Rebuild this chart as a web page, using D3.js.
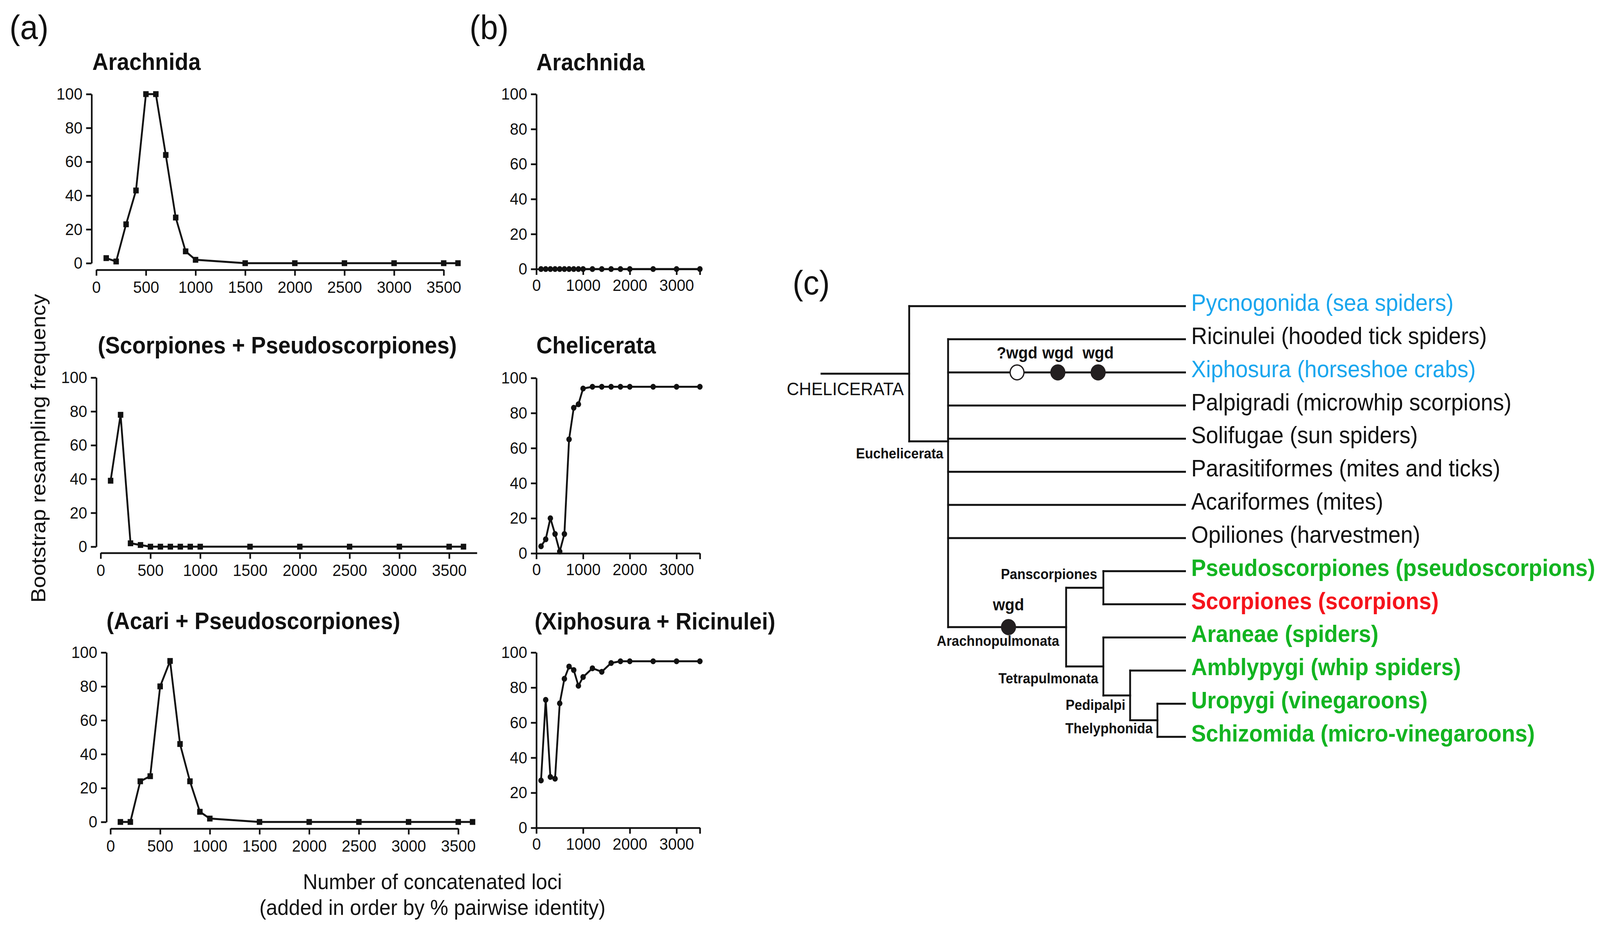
<!DOCTYPE html>
<html>
<head>
<meta charset="utf-8">
<script src="https://cdn.jsdelivr.net/npm/d3@7"></script>
<style>
  html, body { margin: 0; padding: 0; background: #fff; overflow: hidden; }
  svg { display: block; font-family: 'Liberation Sans', Arial, Helvetica, sans-serif; }
</style>
</head>
<body>
<div id="figure_container"></div>
<script>

// number of concatenated loci (x values)
var loci_a = [100, 200, 300, 400, 500, 600, 700, 800, 900, 1000, 1500, 2000, 2500, 3000, 3500, 3644]
var loci_b = [100, 200, 300, 400, 500, 600, 700, 800, 900, 1000, 1200, 1400, 1600, 1800, 2000, 2500, 3000, 3500]

// (a) bootstrap resampling frequency
var arachnida_a = [3, 1, 23, 43, 100, 100, 64, 27, 7, 2, 0, 0, 0, 0, 0, 0]
var scorp_pseudo_a = [39, 78, 2, 1, 0, 0, 0, 0, 0, 0, 0, 0, 0, 0, 0, 0]
var acari_pseudo_a = [0, 0, 24, 27, 80, 95, 46, 24, 6, 2, 0, 0, 0, 0, 0, 0]

// (b) bootstrap resampling frequency
var arachnida_b = [0, 0, 0, 0, 0, 0, 0, 0, 0, 0, 0, 0, 0, 0, 0, 0, 0, 0]
var chelicerata_b = [4, 8, 20, 11, 1, 11, 65, 83, 85, 94, 95, 95, 95, 95, 95, 95, 95, 95]
var xiph_ricin_b = [27, 73, 29, 28, 71, 85, 92, 90, 81, 86, 91, 89, 94, 95, 95, 95, 95, 95]

var y_ticks = [0, 20, 40, 60, 80, 100]
var x_ticks_a = [0, 500, 1000, 1500, 2000, 2500, 3000, 3500]
var x_ticks_b = [0, 1000, 2000, 3000, 3500]
var x_labels_b = ['0', '1000', '2000', '3000', '']

// (c) tree tips, top to bottom
var taxa = [
  'Pycnogonida (sea spiders)',
  'Ricinulei (hooded tick spiders)',
  'Xiphosura (horseshoe crabs)',
  'Palpigradi (microwhip scorpions)',
  'Solifugae (sun spiders)',
  'Parasitiformes (mites and ticks)',
  'Acariformes (mites)',
  'Opiliones (harvestmen)',
  'Pseudoscorpiones (pseudoscorpions)',
  'Scorpiones (scorpions)',
  'Araneae (spiders)',
  'Amblypygi (whip spiders)',
  'Uropygi (vinegaroons)',
  'Schizomida (micro-vinegaroons)'
]
var taxa_group = ['blue', 'black', 'blue', 'black', 'black', 'black', 'black', 'black',
  'green', 'red', 'green', 'green', 'green', 'green']

// topology; pos = node depth on a 0..100 scale (tips at 100)
var tree = {name: 'CHELICERATA', pos: 0, children: [
  {tip: 0},
  {name: 'Euchelicerata', pos: 14.1, row: 4.08, children: [
    {tip: 1}, {tip: 2}, {tip: 3}, {tip: 4}, {tip: 5}, {tip: 6}, {tip: 7},
    {name: 'Arachnopulmonata', pos: 56.9, children: [
      {name: 'Panscorpiones', pos: 70.4, children: [{tip: 8}, {tip: 9}]},
      {name: 'Tetrapulmonata', pos: 70.4, children: [
        {tip: 10},
        {name: 'Pedipalpi', pos: 80.1, children: [
          {tip: 11},
          {name: 'Thelyphonida', pos: 90, children: [{tip: 12}, {tip: 13}]}
        ]}
      ]}
    ]}
  ]}
]}

var wgd_events = [
  {taxon: 2, pos: 39.1, label: '?wgd', open: true},
  {taxon: 2, pos: 53.9, label: 'wgd', open: false},
  {taxon: 2, pos: 68.5, label: 'wgd', open: false},
  {clade: 'Arachnopulmonata', pos: 36.0, label: 'wgd', open: false}
]

var colour_lut = {
  'blue': '#1aa6ee',
  'black': '#111111',
  'green': '#13b421',
  'red': '#f5141c'
}

var W = 4403
var H = 2374

// drawn in 4403x2374 units, stretched onto whatever viewport we get
var svg = d3.select('div#figure_container').append('svg')
  .attr('width', window.innerWidth || W)
  .attr('height', window.innerHeight || H)
  .attr('viewBox', '0 0 ' + W + ' ' + H)
  .attr('preserveAspectRatio', 'none')

svg.append('rect')
  .attr('width', W)
  .attr('height', H)
  .attr('fill', '#fff')

// panel letters
;[['(a)', 26, 100], ['(b)', 1292, 100], ['(c)', 2181, 754]].forEach(function(l) {
  svg.append('text')
    .text(l[0])
    .attr('x', l[1])
    .attr('y', l[2])
    .style('font-size', '88px')
    .attr('fill', '#111')
})

function draw_panel(cfg) {

  var x = d3.scaleLinear().domain([0, 3500]).range(cfg.x_range)
  var y = d3.scaleLinear().domain([0, 100]).range(cfg.y_range)

  var g = svg.append('g')

  g.append('text')
    .text(cfg.title)
    .attr('x', cfg.title_x)
    .attr('y', cfg.title_y)
    .style('font-size', '61px')
    .style('font-weight', 'bold')
    .attr('fill', '#111')

  var y_axis = g.append('g')
    .attr('transform', 'translate(' + cfg.y_axis_x + ',0)')
    .call(d3.axisLeft(y).tickValues(y_ticks).tickSize(15).tickSizeOuter(0).tickPadding(10))

  var x_axis = g.append('g')
    .attr('transform', 'translate(0,' + cfg.x_axis_y + ')')
    .call(d3.axisBottom(x).tickValues(cfg.x_ticks).tickSize(15).tickSizeOuter(0)
      .tickPadding(cfg.x_pad)
      .tickFormat(function(d, i) { return cfg.x_labels ? cfg.x_labels[i] : d }))

  ;[y_axis, x_axis].forEach(function(ax) {
    ax.select('.domain').attr('stroke', '#111').attr('stroke-width', 4.5)
    ax.selectAll('.tick line').attr('stroke', '#111').attr('stroke-width', 4.5)
    ax.selectAll('.tick text')
      .attr('fill', '#111')
      .style('font-size', '43px')
      .style('font-family', "'Liberation Sans', Arial, sans-serif")
  })

  if (cfg.axis_end) {
    g.append('line')
      .attr('x1', x(3500))
      .attr('x2', cfg.axis_end)
      .attr('y1', cfg.x_axis_y + 0.5)
      .attr('y2', cfg.x_axis_y + 0.5)
      .attr('stroke', '#111')
      .attr('stroke-width', 4.5)
  }

  var pts = cfg.loci.map(function(l, i) { return [l, cfg.values[i]] })

  var line = d3.line()
    .x(function(d) { return x(d[0]) })
    .y(function(d) { return y(d[1]) })

  g.append('path')
    .datum(pts)
    .attr('d', line)
    .attr('fill', 'none')
    .attr('stroke', '#111')
    .attr('stroke-width', 5)
    .attr('stroke-linejoin', 'round')

  if (cfg.marker === 'square') {
    g.selectAll('rect.pt').data(pts).enter().append('rect')
      .attr('class', 'pt')
      .attr('x', function(d) { return x(d[0]) - 7.5 })
      .attr('y', function(d) { return y(d[1]) - 7.5 })
      .attr('width', 15)
      .attr('height', 15)
      .attr('fill', '#111')
  } else {
    g.selectAll('circle.pt').data(pts).enter().append('circle')
      .attr('class', 'pt')
      .attr('cx', function(d) { return x(d[0]) })
      .attr('cy', function(d) { return y(d[1]) })
      .attr('r', 7.5)
      .attr('fill', '#111')
  }
}

// (a) panels
draw_panel({title: 'Arachnida', loci: loci_a, values: arachnida_a, marker: 'square',
  x_range: [265, 1221], y_range: [674, 241], y_axis_x: 252, x_axis_y: 691,
  title_x: 254, title_y: 179, x_ticks: x_ticks_a, x_pad: 13})
draw_panel({title: '(Scorpiones + Pseudoscorpiones)', loci: loci_a, values: scorp_pseudo_a, marker: 'square',
  x_range: [277, 1236], y_range: [1400, 967], y_axis_x: 265, x_axis_y: 1416, axis_end: 1313,
  title_x: 269, title_y: 905, x_ticks: x_ticks_a, x_pad: 13})
draw_panel({title: '(Acari + Pseudoscorpiones)', loci: loci_a, values: acari_pseudo_a, marker: 'square',
  x_range: [304, 1261], y_range: [2105, 1671], y_axis_x: 293, x_axis_y: 2122,
  title_x: 293, title_y: 1611, x_ticks: x_ticks_a, x_pad: 13})

// (b) panels
draw_panel({title: 'Arachnida', loci: loci_b, values: arachnida_b, marker: 'circle',
  x_range: [1476, 1926], y_range: [689, 241], y_axis_x: 1476, x_axis_y: 689,
  title_x: 1476, title_y: 180, x_ticks: x_ticks_b, x_labels: x_labels_b, x_pad: 10})
draw_panel({title: 'Chelicerata', loci: loci_b, values: chelicerata_b, marker: 'circle',
  x_range: [1476, 1926], y_range: [1417, 968], y_axis_x: 1476, x_axis_y: 1417,
  title_x: 1476, title_y: 905, x_ticks: x_ticks_b, x_labels: x_labels_b, x_pad: 10})
draw_panel({title: '(Xiphosura + Ricinulei)', loci: loci_b, values: xiph_ricin_b, marker: 'circle',
  x_range: [1476, 1926], y_range: [2120, 1671], y_axis_x: 1476, x_axis_y: 2120,
  title_x: 1471, title_y: 1612, x_ticks: x_ticks_b, x_labels: x_labels_b, x_pad: 10})

// shared axis titles
svg.append('text')
  .text('Bootstrap resampling frequency')
  .attr('transform', 'translate(125,1148) rotate(-90)')
  .style('text-anchor', 'middle')
  .style('font-size', '56px')
  .attr('fill', '#111')

svg.append('text')
  .text('Number of concatenated loci')
  .attr('x', 1190)
  .attr('y', 2277)
  .style('text-anchor', 'middle')
  .style('font-size', '56px')
  .attr('fill', '#111')

svg.append('text')
  .text('(added in order by % pairwise identity)')
  .attr('x', 1190)
  .attr('y', 2343)
  .style('text-anchor', 'middle')
  .style('font-size', '56px')
  .attr('fill', '#111')

// (c) tree

var tree_x = d3.scaleLinear().domain([0, 100]).range([2502, 3261])
var tree_y = d3.scaleLinear().domain([0, taxa.length - 1]).range([784, 1887])

var root = d3.hierarchy(tree)
root.eachAfter(function(node) {
  if (!node.children) {
    node.row = node.data.tip
    node.px = 100
  } else {
    var first = node.children[0]
    var last = node.children[node.children.length - 1]
    node.row = node.data.row !== undefined ? node.data.row : (first.row + last.row) / 2
    node.px = node.data.pos
  }
})

var g_tree = svg.append('g')
  .attr('stroke', '#111')
  .attr('stroke-width', 5)
  .attr('stroke-linecap', 'square')

// stem
g_tree.append('line')
  .attr('x1', tree_x(-31.8))
  .attr('x2', tree_x(root.px))
  .attr('y1', tree_y(root.row))
  .attr('y2', tree_y(root.row))

root.descendants().forEach(function(node) {
  if (!node.children) return
  var first = node.children[0]
  var last = node.children[node.children.length - 1]
  g_tree.append('line')
    .attr('x1', tree_x(node.px))
    .attr('x2', tree_x(node.px))
    .attr('y1', tree_y(first.row))
    .attr('y2', tree_y(last.row))
  node.children.forEach(function(child) {
    g_tree.append('line')
      .attr('x1', tree_x(node.px))
      .attr('x2', tree_x(child.px))
      .attr('y1', tree_y(child.row))
      .attr('y2', tree_y(child.row))
  })
})

// clade labels: [dx from node, dy from node, size, weight]
var clade_label_style = {
  'CHELICERATA': [-15, 55, 47, 'normal'],
  'Euchelicerata': [-13, 44, 37, 'bold'],
  'Arachnopulmonata': [-19, 48, 37, 'bold'],
  'Panscorpiones': [-17, -22, 37, 'bold'],
  'Tetrapulmonata': [-14, 43, 37, 'bold'],
  'Pedipalpi': [-13, 37, 37, 'bold'],
  'Thelyphonida': [-13, 33, 37, 'bold']
}

root.descendants().forEach(function(node) {
  if (!node.children) return
  var s = clade_label_style[node.data.name]
  svg.append('text')
    .text(node.data.name)
    .attr('x', tree_x(node.px) + s[0])
    .attr('y', tree_y(node.row) + s[1])
    .style('text-anchor', 'end')
    .style('font-size', s[2] + 'px')
    .style('font-weight', s[3])
    .attr('fill', '#111')
})

// tip labels
root.leaves().forEach(function(leaf) {
  var grp = taxa_group[leaf.data.tip]
  svg.append('text')
    .text(taxa[leaf.data.tip])
    .attr('x', tree_x(100) + 17)
    .attr('y', tree_y(leaf.row) + 12)
    .style('font-size', '61px')
    .style('font-weight', (grp === 'green' || grp === 'red') ? 'bold' : 'normal')
    .attr('fill', colour_lut[grp])
})

// whole genome duplications
var clade_rows = {}
root.descendants().forEach(function(node) {
  if (node.children) clade_rows[node.data.name] = node.row
})

wgd_events.forEach(function(ev) {
  var row = ev.clade !== undefined ? clade_rows[ev.clade] : ev.taxon
  var cx = tree_x(ev.pos)
  var cy = tree_y(row)
  svg.append('circle')
    .attr('cx', cx)
    .attr('cy', cy)
    .attr('r', 19)
    .attr('fill', ev.open ? '#fff' : '#231f20')
    .attr('stroke', '#231f20')
    .attr('stroke-width', 3.5)
  svg.append('text')
    .text(ev.label)
    .attr('x', cx)
    .attr('y', cy - (ev.clade !== undefined ? 43 : 36))
    .style('text-anchor', 'middle')
    .style('font-size', '43px')
    .style('font-weight', 'bold')
    .attr('fill', '#111')
})

</script>
</body>
</html>
